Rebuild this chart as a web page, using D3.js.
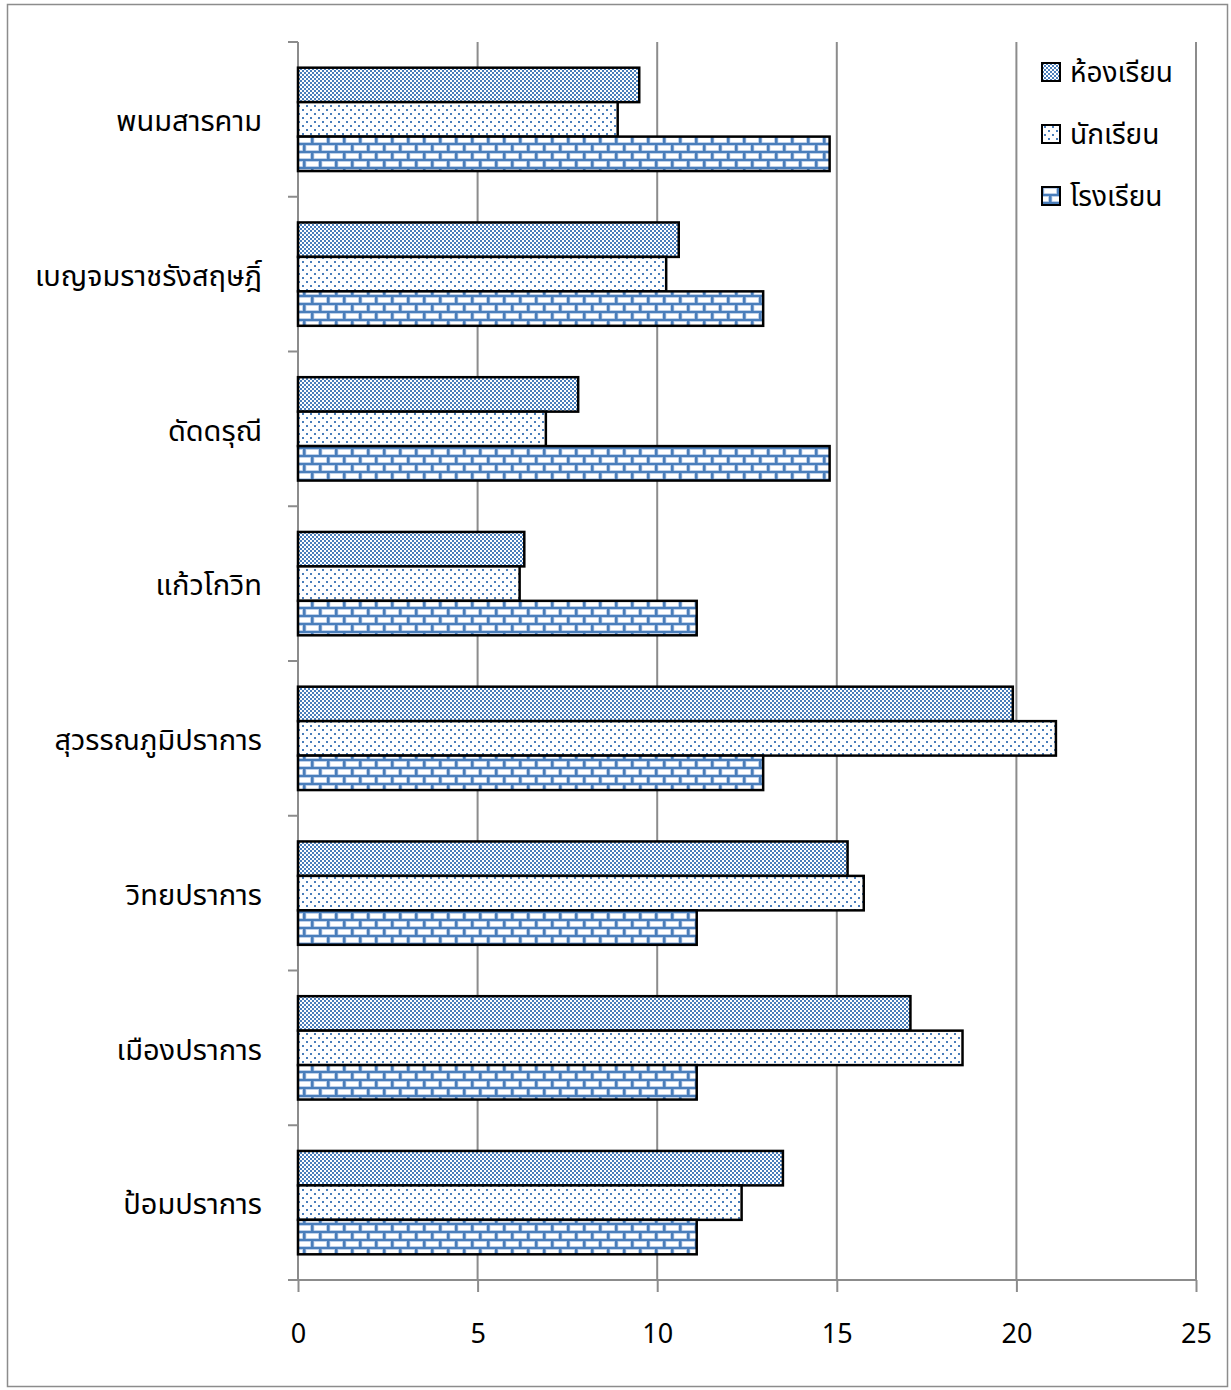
<!DOCTYPE html>
<html>
<head>
<meta charset="utf-8">
<script src="https://cdn.jsdelivr.net/npm/d3@7"></script>
<style>
  body { margin: 0; background: #fff; }
  svg { display: block; }
  text { font-family: "Noto Sans", "Noto Sans Thai", "DejaVu Sans", sans-serif; fill: #000; }
</style>
</head>
<body>
<svg id="chart"></svg>
<script>
// categories top to bottom
var categories = ["พนมสารคาม", "เบญจมราชรังสฤษฎิ์", "ดัดดรุณี", "แก้วโกวิท",
                  "สุวรรณภูมิปราการ", "วิทยปราการ", "เมืองปราการ", "ป้อมปราการ"];
var seriesNames = ["ห้องเรียน", "นักเรียน", "โรงเรียน"];
var roomValues    = [9.5, 10.6, 7.8, 6.3, 19.9, 15.3, 17.05, 13.5];
var studentValues = [8.9, 10.25, 6.9, 6.17, 21.1, 15.75, 18.5, 12.35];
var schoolValues  = [14.8, 12.95, 14.8, 11.1, 12.95, 11.1, 11.1, 11.1];
var xTicks = [0, 5, 10, 15, 20, 25];

var W = 1231, H = 1390;
var plotL = 298, plotR = 1196, plotT = 42, plotB = 1280;
var blue = "#4a7ebb";

var svg = d3.select("#chart").attr("width", W).attr("height", H);

// patterns
var defs = svg.append("defs");
var p1 = defs.append("pattern").attr("id", "pRoom").attr("patternUnits", "userSpaceOnUse")
  .attr("width", 4).attr("height", 4);
p1.append("rect").attr("width", 4).attr("height", 4).attr("fill", "#fff");
p1.append("rect").attr("x", 0).attr("y", 0).attr("width", 2).attr("height", 2).attr("fill", blue);
p1.append("rect").attr("x", 2).attr("y", 2).attr("width", 2).attr("height", 2).attr("fill", blue);

var p2 = defs.append("pattern").attr("id", "pStudent").attr("patternUnits", "userSpaceOnUse")
  .attr("width", 16).attr("height", 8);
p2.append("rect").attr("width", 16).attr("height", 8).attr("fill", "#fff");
p2.append("rect").attr("x", 2).attr("y", 1).attr("width", 2).attr("height", 2).attr("fill", blue);
p2.append("rect").attr("x", 10).attr("y", 1).attr("width", 2).attr("height", 2).attr("fill", blue);
p2.append("rect").attr("x", 6).attr("y", 5).attr("width", 2).attr("height", 2).attr("fill", blue);
p2.append("rect").attr("x", 14).attr("y", 5).attr("width", 2).attr("height", 2).attr("fill", blue);

var p3 = defs.append("pattern").attr("id", "pSchool").attr("patternUnits", "userSpaceOnUse")
  .attr("width", 16).attr("height", 16);
p3.append("rect").attr("width", 16).attr("height", 16).attr("fill", blue);
[[2, 1.5], [10, 9.5], [-6, 9.5]].forEach(function(b){
  p3.append("rect").attr("x", b[0]).attr("y", b[1]).attr("width", 12.5).attr("height", 5)
    .attr("fill", "#fff").attr("stroke", "#c6d6ee").attr("stroke-width", 0.8);
});
var fills = ["url(#pRoom)", "url(#pStudent)", "url(#pSchool)"];

// outer border
svg.append("rect").attr("x", 7.5).attr("y", 4.5).attr("width", 1220).attr("height", 1382)
  .attr("fill", "none").attr("stroke", "#8c8c8c").attr("stroke-width", 1.5);

var x = d3.scaleLinear().domain([0, 25]).range([plotL, plotR]);
var y = d3.scaleBand().domain(categories).range([plotT, plotB]).paddingInner(0.332).paddingOuter(0.166);
var ySub = d3.scaleBand().domain(seriesNames).range([0, y.bandwidth()]);

// gridlines
svg.append("g").selectAll("line").data(xTicks.slice(1)).enter().append("line")
  .attr("x1", function(d){ return x(d); }).attr("x2", function(d){ return x(d); })
  .attr("y1", plotT).attr("y2", plotB)
  .attr("stroke", "#8c8c8c").attr("stroke-width", 2);

// x axis
var xAxis = svg.append("g").attr("transform", "translate(0," + plotB + ")")
  .call(d3.axisBottom(x).tickValues(xTicks).tickSize(12).tickPadding(28));
xAxis.select(".domain").attr("d", "M" + (plotL - 10) + ",0H" + plotR).attr("stroke", "#8c8c8c").attr("stroke-width", 2);
xAxis.selectAll(".tick line").attr("stroke", "#8c8c8c").attr("stroke-width", 2);
xAxis.selectAll("text").attr("font-size", 27).attr("dy", "0.85em");

// y axis with ticks between categories
var yAxis = svg.append("g");
yAxis.append("line").attr("x1", plotL).attr("x2", plotL).attr("y1", plotT).attr("y2", plotB)
  .attr("stroke", "#8c8c8c").attr("stroke-width", 2);
var bounds = categories.map(function(c){ return y(c) - y.step() * y.paddingInner() / 2; });
bounds.push(plotB);
yAxis.selectAll("line.tk").data(bounds).enter().append("line").attr("class", "tk")
  .attr("x1", plotL - 10).attr("x2", plotL)
  .attr("y1", function(d){ return d; }).attr("y2", function(d){ return d; })
  .attr("stroke", "#8c8c8c").attr("stroke-width", 2);
yAxis.selectAll("text").data(categories).enter().append("text")
  .attr("x", plotL - 36).attr("y", function(d){ return y(d) + y.bandwidth() / 2 + 4; })
  .attr("text-anchor", "end").attr("dominant-baseline", "middle")
  .attr("font-size", 29).text(function(d){ return d; });

// bars
var series = [roomValues, studentValues, schoolValues];
series.forEach(function(vals, si){
  svg.append("g").selectAll("rect").data(vals).enter().append("rect")
    .attr("x", x(0))
    .attr("y", function(d, i){ return y(categories[i]) + ySub(seriesNames[si]); })
    .attr("width", function(d){ return x(d) - x(0); })
    .attr("height", ySub.bandwidth())
    .attr("fill", fills[si])
    .attr("stroke", "#000").attr("stroke-width", 2.5);
});

// legend
var legend = svg.append("g").attr("transform", "translate(1042,63)");
seriesNames.forEach(function(s, i){
  var g = legend.append("g").attr("transform", "translate(0," + (i * 62) + ")");
  g.append("rect").attr("width", 18).attr("height", 18).attr("fill", fills[i])
    .attr("stroke", "#000").attr("stroke-width", 2);
  g.append("text").attr("x", 28).attr("y", 11).attr("dominant-baseline", "middle")
    .attr("font-size", 28).text(s);
});
</script>
</body>
</html>
